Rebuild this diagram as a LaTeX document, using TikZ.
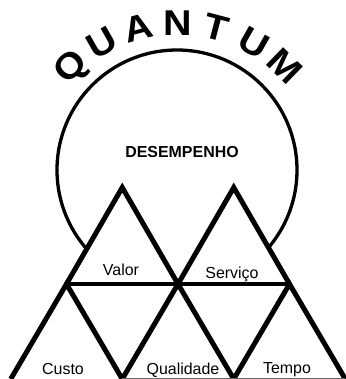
\documentclass[tikz,border=0pt]{standalone}
\usepackage{fontspec}
\setmainfont{Liberation Sans}
\usetikzlibrary{calc}

\begin{document}
\begin{tikzpicture}[x=1bp,y=1bp,
    ln/.style={line width=5bp,black},
    lbl/.style={anchor=base,inner sep=0pt,font=\fontsize{16}{18}\selectfont},
    lett/.style={anchor=base,inner sep=0pt}]
  \useasboundingbox (0,0) rectangle (346,379);
  % the big circle
  \node[circle,draw,line width=3.3bp,inner sep=0pt,minimum size=240bp] (ring) at (177,209) {};
  % arched title
  \foreach \c [count=\i] in {Q,U,A,N,T,U,M} {
    \pgfmathsetmacro\ang{134.25-14.75*(\i-1)}
    \node[lett,rotate=\ang-90] (t\i) at ($(177.5,202)+(\ang:142)$)
      {\fontsize{36}{40}\selectfont\bfseries\scalebox{1.1}[1]{\c}};
  }
  \node[lbl,font=\fontsize{16}{18}\selectfont\bfseries] (des) at (182,222) {DESEMPENHO};
  % triangle corners
  \coordinate (ta) at (122.25,191.5);
  \coordinate (tb) at (233.75,191.5);
  \coordinate (m1) at (66.5,95);
  \coordinate (m2) at (178,95);
  \coordinate (m3) at (289.5,95);
  \coordinate (b1) at (10.75,0);
  \coordinate (b2) at (122.25,0);
  \coordinate (b3) at (233.75,0);
  \coordinate (b4) at (345.25,0);
  \fill[white] (ta) -- (m1) -- (m2) -- cycle (tb) -- (m2) -- (m3) -- cycle
    (m1) -- (m3) -- (b4) -- (b1) -- cycle;
  % upper row
  \draw[ln] (m2) -- (ta) -- (m1);
  \draw[ln] (m2) -- (tb) -- (m3);
  \draw[line width=4.5bp] (m1) -- (m3);
  % lower row
  \draw[ln] (b1) -- (m1) -- (b2) -- (m2) -- (b3) -- (m3) -- (b4);
  \draw[line width=0.8bp,black!60] ($(b2)+(0,0.5)$) -- ($(b4)+(0,0.5)$);
  % labels
  \node[lbl] (val) at (121,104) {Valor};
  \node[lbl] (ser) at (232,101) {Serviço};
  \node[lbl] (cus) at (63,5) {Custo};
  \node[lbl] (qua) at (183,5) {Qualidade};
  \node[lbl] (tem) at (287,6) {Tempo};
\end{tikzpicture}
\end{document}
